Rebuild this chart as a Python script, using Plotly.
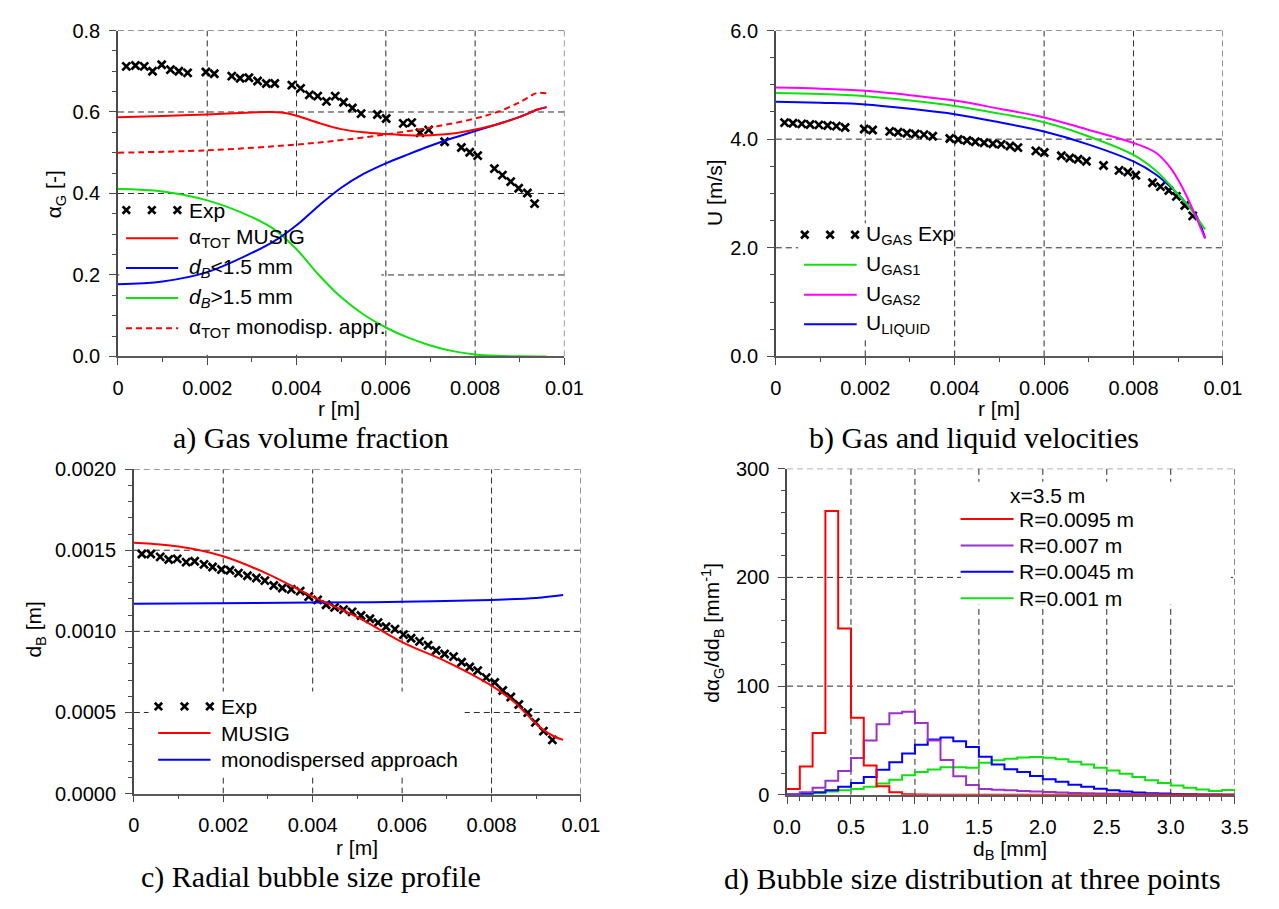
import plotly.graph_objects as go

W, H = 1279, 909

# ---------------- (a) gas volume fraction ----------------
a_exp_r = [0.000187, 0.000392, 0.000588, 0.000775, 0.00098, 0.001176, 0.001364, 0.00156,
           0.00197, 0.002157, 0.002549, 0.002736, 0.002932, 0.003128, 0.003324, 0.003512,
           0.003895, 0.004091, 0.004287, 0.004474, 0.00467, 0.004866, 0.005053, 0.00525,
           0.005446, 0.005811, 0.006007, 0.00639, 0.006578, 0.006765, 0.00696, 0.007317,
           0.007692, 0.007879, 0.008057, 0.008431, 0.00861, 0.008797, 0.008975, 0.009171, 0.009332]
a_exp_alpha = [0.712, 0.714, 0.712, 0.700, 0.716, 0.704, 0.700, 0.696,
               0.698, 0.694, 0.688, 0.683, 0.684, 0.676, 0.670, 0.670,
               0.666, 0.658, 0.642, 0.639, 0.626, 0.639, 0.624, 0.610,
               0.596, 0.594, 0.584, 0.572, 0.574, 0.549, 0.556, 0.527,
               0.513, 0.501, 0.493, 0.461, 0.445, 0.429, 0.413, 0.401, 0.375]

a_musig_r = [0.0, 0.001, 0.002, 0.003, 0.0034, 0.0037, 0.004, 0.0045, 0.005, 0.0055,
             0.006, 0.0065, 0.007, 0.0075, 0.008, 0.0085, 0.009, 0.0094, 0.0096]
a_musig = [0.587, 0.590, 0.594, 0.599, 0.600, 0.598, 0.591, 0.573, 0.558, 0.550,
           0.546, 0.543, 0.543, 0.547, 0.557, 0.570, 0.588, 0.606, 0.612]

a_group_r = [0.0, 0.001, 0.002, 0.003, 0.0035, 0.004, 0.0045, 0.005, 0.0055, 0.006,
             0.0065, 0.007, 0.0075, 0.008, 0.0085, 0.009, 0.0094, 0.0096]
a_small = [0.177, 0.184, 0.207, 0.254, 0.283, 0.322, 0.370, 0.414, 0.448, 0.474,
           0.496, 0.517, 0.536, 0.553, 0.570, 0.588, 0.606, 0.612]
a_large = [0.411, 0.405, 0.383, 0.342, 0.312, 0.263, 0.200, 0.145, 0.103, 0.071,
           0.046, 0.027, 0.013, 0.005, 0.0015, 0.0003, 0.0, 0.0]

a_mono_r = [0.0, 0.002, 0.004, 0.005, 0.006, 0.007, 0.008, 0.0085, 0.009, 0.0093, 0.0094, 0.0096]
a_mono = [0.500, 0.506, 0.520, 0.531, 0.545, 0.562, 0.584, 0.600, 0.624, 0.643, 0.647, 0.646]

# ---------------- (b) gas and liquid velocities ----------------
b_exp_r = [0.000196, 0.000383, 0.000579, 0.000766, 0.000962, 0.001158, 0.001354, 0.001549,
           0.001977, 0.002164, 0.002547, 0.002734, 0.00293, 0.003117, 0.003313, 0.003508,
           0.003891, 0.004078, 0.004274, 0.004461, 0.004657, 0.004853, 0.00504, 0.005236,
           0.005414, 0.005815, 0.006002, 0.006385, 0.006572, 0.006759, 0.006946, 0.007329,
           0.007676, 0.007872, 0.00805, 0.008424, 0.008602, 0.008789, 0.008958, 0.009145, 0.009323]
b_exp_u = [4.305, 4.293, 4.281, 4.269, 4.263, 4.251, 4.240, 4.216,
           4.186, 4.168, 4.144, 4.126, 4.108, 4.096, 4.084, 4.054,
           4.012, 3.994, 3.976, 3.952, 3.934, 3.916, 3.904, 3.874,
           3.844, 3.784, 3.754, 3.695, 3.653, 3.629, 3.593, 3.515,
           3.425, 3.395, 3.335, 3.198, 3.126, 3.054, 2.946, 2.778, 2.587]

b_r = [0.0, 0.001, 0.002, 0.003, 0.004, 0.005, 0.006, 0.007, 0.008,
       0.0085, 0.0088, 0.009, 0.0092, 0.0094, 0.0096]
b_gas1 = [4.85, 4.83, 4.79, 4.71, 4.61, 4.47, 4.31, 4.05, 3.71, 3.42, 3.17, 2.98, 2.80, 2.57, 2.34]
b_gas2 = [4.95, 4.93, 4.89, 4.81, 4.71, 4.56, 4.40, 4.17, 3.93, 3.75, 3.50, 3.25, 2.93, 2.56, 2.17]
b_liquid = [4.69, 4.67, 4.64, 4.56, 4.46, 4.31, 4.14, 3.90, 3.59, 3.35, 3.14, 2.98, 2.80, 2.60, 2.18]

# ---------------- (c) radial bubble size profile ----------------
c_exp_r = [0.00018, 0.00038, 0.00059, 0.00078, 0.00097, 0.00117, 0.00136, 0.00157, 0.00176, 0.00196,
           0.00215, 0.00234, 0.00254, 0.00274, 0.00293, 0.00313, 0.00332, 0.00352, 0.00372, 0.00391,
           0.00411, 0.00430, 0.00449, 0.00469, 0.00488, 0.00508, 0.00528, 0.00546, 0.00564, 0.00584,
           0.00603, 0.00620, 0.00639, 0.00658, 0.00676, 0.00695, 0.00715, 0.00733, 0.00751, 0.00769,
           0.00788, 0.00807, 0.00825, 0.00843, 0.00861, 0.00881, 0.00898, 0.00916, 0.00936]
c_exp_d = [0.001477, 0.001477, 0.001459, 0.001443, 0.001447, 0.001427, 0.001432, 0.001413, 0.001397, 0.001381,
           0.001377, 0.001359, 0.001343, 0.001329, 0.001313, 0.001283, 0.001267, 0.001259, 0.001248, 0.001214,
           0.001194, 0.001164, 0.001148, 0.001134, 0.001120, 0.001098, 0.001078, 0.001054, 0.001028, 0.001014,
           0.000980, 0.000958, 0.000938, 0.000914, 0.000882, 0.000860, 0.000844, 0.000810, 0.000780, 0.000758,
           0.000715, 0.000685, 0.000635, 0.000595, 0.000549, 0.000499, 0.000439, 0.000385, 0.000331]

c_musig_r = [0.0, 0.001, 0.002, 0.003, 0.004, 0.005, 0.006, 0.007, 0.008, 0.0085, 0.0088, 0.0091, 0.0094, 0.0096]
c_musig = [0.001547, 0.001523, 0.001463, 0.001353, 0.001214, 0.001088, 0.000934, 0.000812, 0.000665,
           0.000566, 0.000485, 0.000405, 0.000352, 0.000331]
c_mono_r = [0.0, 0.004, 0.006, 0.008, 0.009, 0.0096]
c_mono = [0.001170, 0.001178, 0.001182, 0.001194, 0.001206, 0.001224]

# ---------------- (d) bubble size distribution ----------------
d_bin_edges = [0.0, 0.1, 0.2, 0.3, 0.4, 0.5, 0.6, 0.7, 0.8, 0.9, 1.0, 1.1, 1.2, 1.3, 1.4, 1.5, 1.6, 1.7,
               1.8, 1.9, 2.0, 2.1, 2.2, 2.3, 2.4, 2.5, 2.6, 2.7, 2.8, 2.9, 3.0, 3.1, 3.2, 3.3, 3.4, 3.5]
d_r0095 = [5.5, 26, 57, 261, 153, 71, 27, 8, 2.4, 0.6, 0.3, 0.2, 0.1, 0.1, 0.1, 0, 0, 0,
           0, 0, 0, 0, 0, 0, 0, 0, 0, 0, 0, 0, 0, 0, 0, 0, 0]
d_r007 = [0.6, 2.4, 6.6, 13, 22, 34, 50, 65, 75, 76.4, 66, 50, 32, 17, 9, 5.4, 4.8, 4.2,
          3.6, 3.0, 2.6, 2.2, 1.8, 1.5, 1.2, 1.0, 0.8, 0.6, 0.5, 0.4, 0.3, 0.2, 0.2, 0.1, 0.1]
d_r0045 = [0.3, 1.0, 2.4, 4.2, 7.5, 11, 16.5, 23, 30, 38, 46, 51, 52.7, 49.4, 44, 35, 28, 23.5,
           21, 17.4, 14.4, 12, 9.3, 7.5, 5.6, 4.2, 3.2, 2.2, 1.5, 1.2, 0.8, 0.6, 0.4, 0.3, 0.2]
d_r001 = [0.3, 0.6, 1.5, 3.0, 4.2, 5.3, 7.5, 10.5, 14, 18, 21, 23.4, 25.5, 25.5, 25, 29.6, 31.8, 33.3,
          34.4, 34.8, 34.2, 32.8, 30.5, 28, 25, 22.5, 19.5, 16.5, 13.5, 11, 8.5, 6.5, 5, 3.5, 4.5]

# ---------------- layout geometry (pixels) ----------------
PANELS = {
    "a": dict(x0=106.7, x1=565.0, y0=20.0, y1=354.0),
    "b": dict(x0=782.0, x1=1241.0, y0=20.0, y1=354.0),
    "c": dict(x0=123.0, x1=582.0, y0=469.5, y1=802.0),
    "d": dict(x0=793.5, x1=1253.0, y0=469.0, y1=803.3),
}

SANS = "Liberation Sans, Arial, sans-serif"
SERIF = "Liberation Serif, Times New Roman, serif"
AXIS_GREY = "#4a4a4a"
GREEN = "#10e010"
PURPLE = "#9932cc"


def fx(x):
    return x / W


def fy(y):
    return 1 - y / H


fig = go.Figure()

cross = dict(symbol="x-thin", size=8, line=dict(width=2.7, color="black"))


def curve(x, y, color, ax, dash="solid", shape="spline"):
    fig.add_trace(go.Scatter(x=x, y=y, mode="lines", xaxis=ax[0], yaxis=ax[1],
                             line=dict(color=color, width=2, dash=dash, shape=shape),
                             showlegend=False, hoverinfo="skip"))


def points(x, y, ax):
    fig.add_trace(go.Scatter(x=x, y=y, mode="markers", xaxis=ax[0], yaxis=ax[1],
                             marker=cross, showlegend=False, cliponaxis=False))


# (a)
A = ("x", "y")
points(a_exp_r, a_exp_alpha, A)
curve(a_mono_r, a_mono, "#ff0000", A, dash="6px,4px")
curve(a_group_r, a_large, GREEN, A)
curve(a_group_r, a_small, "#0000ff", A)
curve(a_musig_r, a_musig, "#ff0000", A)

# (b)
B = ("x2", "y2")
points(b_exp_r, b_exp_u, B)
curve(b_r, b_liquid, "#0000ff", B)
curve(b_r, b_gas1, GREEN, B)
curve(b_r, b_gas2, "#ff00ff", B)

# (c)
C = ("x3", "y3")
points(c_exp_r, c_exp_d, C)
curve(c_mono_r, c_mono, "#0000ff", C)
curve(c_musig_r, c_musig, "#ff0000", C)

# (d) step histograms drawn from bin edges
D = ("x4", "y4")
for vals, col in [(d_r001, GREEN), (d_r0045, "#0000ff"), (d_r007, PURPLE), (d_r0095, "#ff0000")]:
    curve(d_bin_edges, vals + [vals[-1]], col, D, shape="hv")


def axis_style(panel, horizontal, rng, dtick, minor_dtick, fmt):
    p = PANELS[panel]
    if horizontal:
        dom = [fx(p["x0"]), fx(p["x1"])]
    else:
        dom = [fy(p["y1"]), fy(p["y0"])]
    return dict(domain=dom, range=rng, tick0=0, dtick=dtick, tickformat=fmt,
                showgrid=False, zeroline=False, showline=True,
                linecolor="#5a5a5a" if horizontal else AXIS_GREY,
                linewidth=1.8 if horizontal else 1.5,
                ticks="outside", ticklen=7, tickwidth=1.3, tickcolor=AXIS_GREY,
                ticklabelstandoff=6 if horizontal else 5,
                tickfont=dict(family=SANS, size=20, color="black"),
                minor=dict(ticks="outside", ticklen=4, tickwidth=1.1, tickcolor=AXIS_GREY,
                           dtick=minor_dtick, tick0=0, showgrid=False),
                fixedrange=True)


fig.update_layout(
    width=W, height=H, margin=dict(l=0, r=0, t=0, b=0),
    paper_bgcolor="white", plot_bgcolor="rgba(0,0,0,0)", showlegend=False,
    xaxis=dict(axis_style("a", True, [0, 0.01], 0.002, 0.001, "~g"), anchor="y"),
    yaxis=dict(axis_style("a", False, [0, 0.8], 0.2, 0.05, ".1f"), anchor="x"),
    xaxis2=dict(axis_style("b", True, [0, 0.01], 0.002, 0.001, "~g"), anchor="y2"),
    yaxis2=dict(axis_style("b", False, [0, 6], 2, 0.5, ".1f"), anchor="x2"),
    xaxis3=dict(axis_style("c", True, [0, 0.01], 0.002, 0.001, "~g"), anchor="y3"),
    yaxis3=dict(axis_style("c", False, [0, 0.002], 0.0005, 0.0001, ".4f"), anchor="x3"),
    xaxis4=dict(axis_style("d", True, [0, 3.5], 0.5, 0.1, ".1f"), anchor="y4"),
    yaxis4=dict(axis_style("d", False, [0, 300], 100, 20, "d"), anchor="x4"),
)

shapes = []
GRID = dict(color="#2a2a2a", width=1, dash="6px,4px")


def grid(xref, yref, xvals, yvals, xr, yr):
    for v in xvals:
        shapes.append(dict(type="line", xref=xref, yref=yref, x0=v, x1=v, y0=yr[0], y1=yr[1],
                           line=GRID, layer="below"))
    for v in yvals:
        shapes.append(dict(type="line", xref=xref, yref=yref, x0=xr[0], x1=xr[1], y0=v, y1=v,
                           line=GRID, layer="below"))


def blank(xref, yref, x0, x1, y0, y1):
    # opaque legend background that interrupts the grid
    shapes.append(dict(type="rect", xref=xref, yref=yref, x0=x0, x1=x1, y0=y0, y1=y1,
                       fillcolor="white", line=dict(width=0), layer="below"))


r_grid = [0.002, 0.004, 0.006, 0.008, 0.01]
grid("x", "y", r_grid, [0.2, 0.4, 0.6, 0.8], [0, 0.01], [0, 0.8])
grid("x2", "y2", r_grid, [2, 4, 6], [0, 0.01], [0, 6])
grid("x3", "y3", r_grid, [0.0005, 0.001, 0.0015, 0.002], [0, 0.01], [0, 0.002])
grid("x4", "y4", [0.5, 1.0, 1.5, 2.0, 2.5, 3.0, 3.5], [100, 200, 300], [0, 3.5], [0, 300])

blank("x", "y", 0.00003, 0.0059, 0.004, 0.392)
blank("x2", "y2", 0.0005, 0.00395, 0.35, 2.45)
blank("x3", "y3", 0.00033, 0.0074, 0.0001, 0.00063)
blank("x4", "y4", 1.36, 3.47, 175, 288)

annotations = []


def text(x, y, s, size=21, anchor="left", family=SANS, angle=0):
    annotations.append(dict(x=fx(x), y=fy(y), xref="paper", yref="paper", text=s, showarrow=False,
                            xanchor=anchor, yanchor="middle", textangle=angle,
                            font=dict(family=family, size=size, color="black")))


def key_line(x0, x1, y, color, dash="solid"):
    shapes.append(dict(type="line", xref="paper", yref="paper", x0=fx(x0), x1=fx(x1),
                       y0=fy(y), y1=fy(y), line=dict(color=color, width=2, dash=dash),
                       layer="above"))


def key_cross(cx, cy, s=3.8):
    path = (f"M {fx(cx - s)},{fy(cy - s)} L {fx(cx + s)},{fy(cy + s)} "
            f"M {fx(cx - s)},{fy(cy + s)} L {fx(cx + s)},{fy(cy - s)}")
    shapes.append(dict(type="path", xref="paper", yref="paper", path=path,
                       line=dict(color="black", width=2.7), layer="above"))


# legend (a)
for cx in (115.3, 141.5, 167.7):
    key_cross(cx, 204)
text(178, 204, "Exp")
key_line(115, 168.5, 233, "#ff0000")
text(178, 233, "α<sub>TOT</sub> MUSIG")
key_line(115, 168.5, 263.5, "#0000ff")
text(178, 263.5, "<i>d<sub>B</sub></i>&lt;1.5 mm")
key_line(115, 168.5, 294, GREEN)
text(178, 294, "<i>d<sub>B</sub></i>&gt;1.5 mm")
key_line(115, 168.5, 325, "#ff0000", dash="6px,4px")
text(178, 325, "α<sub>TOT</sub> monodisp. appr.")

# legend (b)
for cx in (811.7, 837.7, 863.3):
    key_cross(cx, 229.3)
text(873, 229.3, "U<sub>GAS</sub> Exp")
key_line(811, 865, 260, GREEN)
text(873, 260, "U<sub>GAS1</sub>")
key_line(811, 865, 290.7, "#ff00ff")
text(873, 290.7, "U<sub>GAS2</sub>")
key_line(811, 865, 321, "#0000ff")
text(873, 321, "U<sub>LIQUID</sub>")

# legend (c)
for cx in (148.3, 175, 201):
    key_cross(cx, 712.7)
text(210.5, 712.7, "Exp")
key_line(148, 201.7, 740, "#ff0000")
text(210.5, 740, "MUSIG")
key_line(148, 201.7, 767.3, "#0000ff")
text(210.5, 767.3, "monodispersed approach")

# legend (d)
text(1061, 497, "x=3.5 m", anchor="center")
for yy, col, lab in [(520.7, "#ff0000", "R=0.0095 m"), (547.7, PURPLE, "R=0.007 m"),
                     (574.7, "#0000ff", "R=0.0045 m"), (601.7, GREEN, "R=0.001 m")]:
    key_line(971.7, 1026, yy, col)
    text(1030, yy, lab)

# axis titles
text(43, 188, "α<sub>G</sub> [-]", anchor="center", angle=-90)
text(334, 407, "r [m]", anchor="center")
text(719, 186, "U [m/s]", anchor="center", angle=-90)
text(1011, 407, "r [m]", anchor="center")
text(21.5, 634, "d<sub>B</sub> [m]", anchor="center", angle=-90)
text(351.6, 857, "r [m]", anchor="center")
text(716.7, 637, "dα<sub>G</sub>/dd<sub>B</sub> [mm<sup>-1</sup>]", anchor="center", angle=-90)
text(1022, 860, "d<sub>B</sub> [mm]", anchor="center")

# panel captions
text(304.6, 438, "a) Gas volume fraction", size=30, anchor="center", family=SERIF)
text(985, 438, "b) Gas and liquid velocities", size=30, anchor="center", family=SERIF)
text(304.6, 887, "c) Radial bubble size profile", size=30, anchor="center", family=SERIF)
text(983.5, 890, "d) Bubble size distribution at three points", size=30, anchor="center", family=SERIF)

fig.update_layout(shapes=shapes, annotations=annotations)
fig.write_html("out.html")
